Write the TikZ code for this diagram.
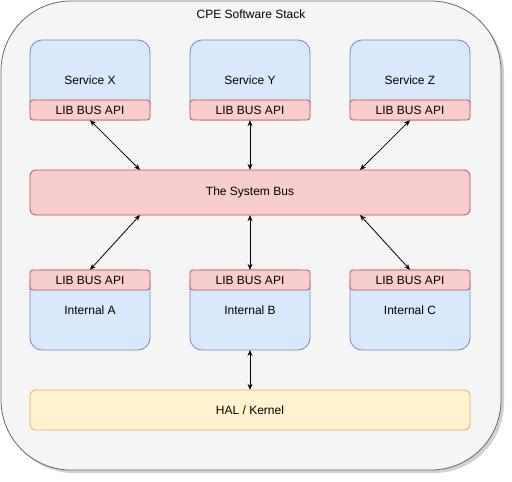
\documentclass[tikz,border=0pt]{standalone}
\usepackage{fontspec}
\setmainfont{Liberation Sans}
\usetikzlibrary{arrows.meta,shadows}
\definecolor{bluef}{HTML}{DAE8FC}\definecolor{blued}{HTML}{6C8EBF}
\definecolor{redf}{HTML}{F8CECC}\definecolor{redd}{HTML}{B85450}
\definecolor{yelf}{HTML}{FFF2CC}\definecolor{yeld}{HTML}{D6B656}
\definecolor{outf}{HTML}{F5F5F5}\definecolor{outd}{HTML}{666666}
\begin{document}
\begin{tikzpicture}[x=1pt,y=-1pt,
  txt/.style={font=\fontsize{12}{14}\selectfont, text=black},
  svcbox/.style={draw=blued, fill=bluef, rounded corners=12pt, line width=0.8pt},
  libbox/.style={draw=redd, fill=redf, rounded corners=3pt, line width=0.8pt},
  busbox/.style={draw=redd, fill=redf, rounded corners=6pt, line width=0.8pt},
  halbox/.style={draw=yeld, fill=yelf, rounded corners=6pt, line width=0.8pt},
  conn/.style={{Stealth[length=6pt,width=5pt]}-{Stealth[length=6pt,width=5pt]}, line width=0.8pt}]
\useasboundingbox (0,0) rectangle (512,482);
% outer container
\fill[gray!60, opacity=0.6, rounded corners=70pt] (4,4) rectangle (504,473);
\draw[draw=outd, fill=outf, rounded corners=70pt, line width=0.8pt] (1,1) rectangle (501,470);
\node[txt] (title) at (251,14) {CPE Software Stack};
% services
\foreach \n/\xx/\lab in {X/30/Service X, Y/190/Service Y, Z/350/Service Z}{
  \draw[svcbox] (\xx,40) rectangle ++(120,80);
  \node[txt] (s\n) at (\xx+60,80) {\lab};
  \draw[libbox] (\xx,100) rectangle ++(120,20);
  \node[txt, minimum width=120pt, minimum height=20pt, inner sep=0pt] (l\n) at (\xx+60,110) {LIB BUS API};
}
% internals
\foreach \n/\xx/\lab in {A/30/Internal A, B/190/Internal B, C/350/Internal C}{
  \draw[svcbox] (\xx,270) rectangle ++(120,80);
  \node[txt] (i\n) at (\xx+60,310) {\lab};
  \draw[libbox] (\xx,270) rectangle ++(120,20);
  \node[txt, minimum width=120pt, minimum height=20pt, inner sep=0pt] (k\n) at (\xx+60,280) {LIB BUS API};
  \coordinate (ib\n) at (\xx+60,350);
}
% bus
\draw[busbox] (30,170) rectangle (470,215);
\node[txt, minimum width=440pt, minimum height=45pt, inner sep=0pt] (bus) at (250,192.5) {The System Bus};
% HAL
\draw[halbox] (30,390) rectangle (470,430);
\node[txt, minimum width=440pt, minimum height=40pt, inner sep=0pt] (hal) at (250,410) {HAL / Kernel};
% connectors
\coordinate (bt1) at (140,170); \coordinate (bt3) at (360,170);
\coordinate (bb1) at (140,215); \coordinate (bb3) at (360,215);
\draw[conn] (lX.south) -- (bt1);
\draw[conn] (lY.south) -- (bus.north);
\draw[conn] (lZ.south) -- (bt3);
\draw[conn] (bb1) -- (kA.north);
\draw[conn] (bus.south) -- (kB.north);
\draw[conn] (bb3) -- (kC.north);
\draw[conn] (ibB) -- (hal.north);
\end{tikzpicture}
\end{document}
